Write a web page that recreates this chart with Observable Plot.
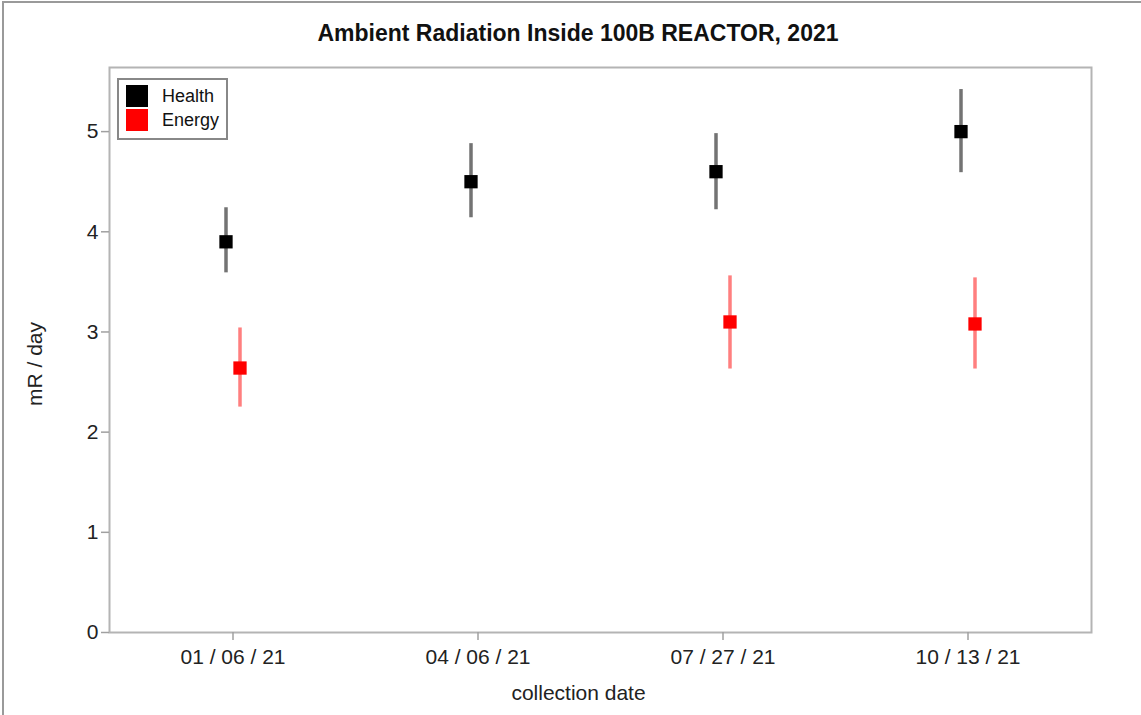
<!DOCTYPE html>
<html>
<head>
<meta charset="utf-8">
<script src="https://cdn.jsdelivr.net/npm/d3@7"></script>
<script src="https://cdn.jsdelivr.net/npm/@observablehq/plot@0.6"></script>
<style>
  html, body { margin: 0; padding: 0; background: #fff; }
  #wrap { position: relative; width: 1141px; height: 715px; overflow: hidden; font-family: "Liberation Sans", Arial, sans-serif; }
  #topline { position: absolute; left: 2px; top: 1px; width: 1139px; height: 2px; background: #9a9a9a; }
  #leftline { position: absolute; left: 2px; top: 1px; width: 2px; height: 714px; background: #9a9a9a; }
  #title { position: absolute; left: 0; width: 1156px; top: 20px; text-align: center; font-weight: bold; font-size: 23px; color: #111; }
  #legend { position: absolute; left: 117px; top: 78px; width: 107px; height: 58px; border: 2px solid #888; background: #fff; }
  .row { position: absolute; left: 7px; height: 22px; display: flex; align-items: center; }
  .sw { width: 22px; height: 22px; }
  .lab { margin-left: 14px; font-size: 18px; color: #111; }
  #plot { position: absolute; left: 0; top: 0; }
</style>
</head>
<body>
<div id="wrap">
  <div id="plot"></div>
  <div id="topline"></div>
  <div id="leftline"></div>
  <div id="title">Ambient Radiation Inside 100B REACTOR, 2021</div>
  <div id="legend">
    <div class="row" style="top:5px"><div class="sw" style="background:#000"></div><span class="lab">Health</span></div>
    <div class="row" style="top:29px"><div class="sw" style="background:#ff0000"></div><span class="lab">Energy</span></div>
  </div>
</div>
<script>
const dates = ["01 / 06 / 21", "04 / 06 / 21", "07 / 27 / 21", "10 / 13 / 21"];
const healthValue = [3.90, 4.50, 4.60, 5.00];
const healthLow   = [3.59, 4.14, 4.22, 4.59];
const healthHigh  = [4.24, 4.88, 4.98, 5.42];
const energyValue = [2.64, null, 3.10, 3.08];
const energyLow   = [2.25, null, 2.63, 2.63];
const energyHigh  = [3.04, null, 3.56, 3.54];
const yTicks = [0, 1, 2, 3, 4, 5];

const health = dates.map((d, i) => ({date: d, v: healthValue[i], lo: healthLow[i], hi: healthHigh[i]}));
const energy = dates.map((d, i) => ({date: d, v: energyValue[i], lo: energyLow[i], hi: energyHigh[i]})).filter(d => d.v != null);

const chart = Plot.plot({
  width: 1141,
  height: 715,
  marginLeft: 109,
  marginRight: 50,
  marginTop: 67,
  marginBottom: 83,
  style: {fontFamily: "'Liberation Sans', Arial, sans-serif", fontSize: "21px", color: "#222", background: "transparent"},
  x: {type: "band", domain: dates, padding: 0, label: null},
  y: {domain: [0, 5.64], label: null},
  marks: [
    Plot.frame({stroke: "#b4b4b4", strokeWidth: 2}),
    Plot.axisY({ticks: yTicks, tickFormat: d => String(d), tickSize: 8, tickPadding: 3, stroke: "#a0a0a0", strokeWidth: 1.5, label: null, fontSize: 21}),
    Plot.axisX({tickSize: 8, tickPadding: 9, stroke: "#a0a0a0", strokeWidth: 1.5, label: null, fontSize: 21}),
    Plot.text(["mR / day"], {frameAnchor: "left", textAnchor: "middle", dx: -74, dy: 14, rotate: -90, fontSize: 21, fill: "#222"}),
    Plot.text(["collection date"], {frameAnchor: "bottom", textAnchor: "middle", dx: -22, dy: 67, fontSize: 21, fill: "#222"}),
    Plot.ruleX(health, {x: "date", y1: "lo", y2: "hi", dx: -7, stroke: "#000", strokeOpacity: 0.55, strokeWidth: 3.5}),
    Plot.ruleX(energy, {x: "date", y1: "lo", y2: "hi", dx: 7, stroke: "#ff0000", strokeOpacity: 0.5, strokeWidth: 3.5}),
    Plot.dot(health, {x: "date", y: "v", dx: -7, symbol: "square", r: 7.5, fill: "#000", stroke: "none"}),
    Plot.dot(energy, {x: "date", y: "v", dx: 7, symbol: "square", r: 7.5, fill: "#ff0000", stroke: "none"})
  ]
});
document.getElementById("plot").appendChild(chart);
</script>
</body>
</html>
